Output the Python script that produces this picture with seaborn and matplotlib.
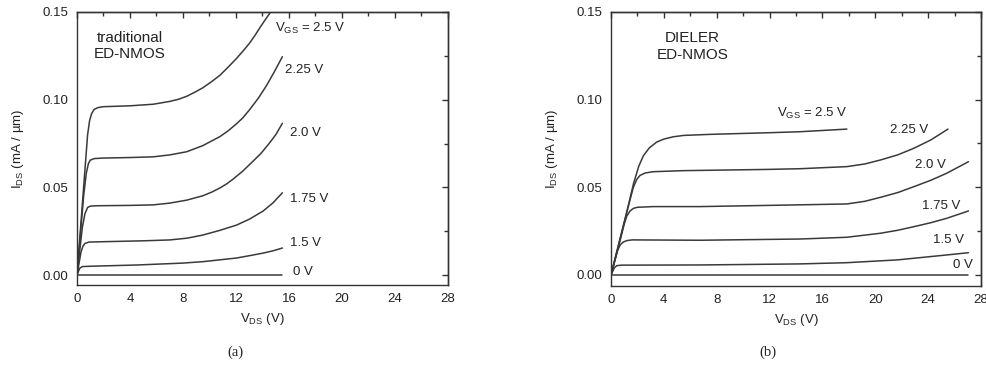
import numpy as np
import pandas as pd
import matplotlib
matplotlib.use("Agg")
import matplotlib.pyplot as plt
import seaborn as sns
from matplotlib.ticker import MultipleLocator, FormatStrFormatter

sns.set_theme(style="white")
plt.rcParams['font.family'] = ['Liberation Sans', 'DejaVu Sans']
plt.rcParams['mathtext.fontset'] = 'custom'
plt.rcParams['mathtext.rm'] = 'Liberation Sans'

# ---------------- data: (a) traditional ED-NMOS ----------------
a_vgs_labels = ["V$_\\mathregular{GS}$ = 2.5 V", "2.25 V", "2.0 V", "1.75 V", "1.5 V", "0 V"]
a_x_25 = [0, 0.5, 0.8, 0.95, 1.1, 1.3, 1.6, 2.0, 4.0, 5.76, 7.0, 7.7, 8.3, 8.9, 9.5, 10.2,
          10.8, 11.4, 12.05, 12.5, 13.0, 13.4, 13.8, 14.2, 14.8]
a_y_25 = [0, 0.05, 0.08, 0.088, 0.092, 0.0945, 0.0955, 0.096, 0.0965, 0.0974, 0.099, 0.1003,
          0.102, 0.1043, 0.1068, 0.1105, 0.114, 0.1185, 0.1236, 0.1275, 0.132, 0.1363, 0.141,
          0.1455, 0.152]
a_x_225 = [0, 0.5, 0.7, 0.86, 1.0, 1.3, 2.0, 4.0, 5.76, 7.0, 8.28, 9.5, 10.8, 11.4, 12.0,
           12.5, 13.05, 13.7, 14.3, 14.9, 15.5]
a_y_225 = [0, 0.045, 0.058, 0.0635, 0.0655, 0.0664, 0.0667, 0.067, 0.0674, 0.0685, 0.0703,
           0.0738, 0.079, 0.0822, 0.086, 0.0895, 0.0945, 0.101, 0.108, 0.116, 0.1245]
a_x_20 = [0, 0.4, 0.6, 0.8, 1.0, 1.5, 4.0, 5.76, 7.0, 8.28, 9.5, 10.2, 10.8, 11.3, 11.8,
          12.5, 13.3, 13.9, 14.5, 15.0, 15.5]
a_y_20 = [0, 0.027, 0.035, 0.0385, 0.0393, 0.0395, 0.0397, 0.040, 0.041, 0.0427, 0.0452,
          0.0474, 0.0497, 0.052, 0.0548, 0.0592, 0.065, 0.0695, 0.075, 0.080, 0.0865]
a_x_175 = [0, 0.3, 0.45, 0.6, 0.9, 2.0, 5.0, 7.0, 8.3, 9.5, 10.8, 12.05, 13.0, 14.05, 14.8, 15.5]
a_y_175 = [0, 0.013, 0.0165, 0.018, 0.0188, 0.019, 0.0195, 0.020, 0.021, 0.0228, 0.0255,
           0.0285, 0.0318, 0.0365, 0.0412, 0.0469]
a_x_15 = [0, 0.2, 0.4, 1.0, 4.5, 8.0, 9.5, 12.05, 13.0, 14.05, 14.8, 15.5]
a_y_15 = [0, 0.0038, 0.0048, 0.005, 0.0057, 0.0068, 0.0076, 0.0097, 0.011, 0.0125, 0.0138, 0.0154]
a_x_0 = [0, 15.5]
a_y_0 = [0, 0]

# ---------------- data: (b) DIELER ED-NMOS ----------------
b_vgs_labels = ["V$_\\mathregular{GS}$ = 2.5 V", "2.25 V", "2.0 V", "1.75 V", "1.5 V", "0 V"]
b_x_25 = [0, 0.7, 1.2, 1.7, 2.1, 2.45, 2.9, 3.46, 4.0, 4.7, 5.5, 7.5, 11.8, 14.3, 17.85]
b_y_25 = [0, 0.021, 0.036, 0.052, 0.062, 0.068, 0.0725, 0.0758, 0.0775, 0.0788, 0.0796,
          0.0802, 0.0811, 0.0817, 0.0832]
b_x_225 = [0, 0.7, 1.2, 1.69, 1.95, 2.2, 2.6, 3.2, 5.47, 11.8, 14.3, 17.85, 19.2, 20.4,
           21.7, 22.9, 24.2, 25.5]
b_y_225 = [0, 0.021, 0.036, 0.050, 0.0545, 0.0568, 0.0582, 0.0589, 0.0595, 0.0602, 0.0606,
           0.0618, 0.0633, 0.0656, 0.0685, 0.0722, 0.077, 0.0832]
b_x_20 = [0, 0.7, 1.0, 1.19, 1.44, 1.7, 2.0, 3.2, 6.74, 14.3, 17.85, 19.2, 20.4, 21.7, 22.9,
          24.2, 25.4, 27.05]
b_y_20 = [0, 0.020, 0.029, 0.0335, 0.0365, 0.038, 0.0386, 0.039, 0.039, 0.040, 0.0405, 0.042,
          0.0443, 0.047, 0.0503, 0.054, 0.058, 0.0646]
b_x_175 = [0, 0.5, 0.7, 0.93, 1.2, 1.6, 6.74, 14.3, 17.85, 20.4, 21.7, 22.9, 24.2, 25.4, 27.05]
b_y_175 = [0, 0.014, 0.0172, 0.0188, 0.0196, 0.020, 0.0198, 0.0205, 0.0215, 0.0238, 0.0255,
           0.0275, 0.0298, 0.0323, 0.0365]
b_x_15 = [0, 0.25, 0.43, 0.8, 6.74, 14.3, 17.85, 21.7, 25.4, 27.05]
b_y_15 = [0, 0.004, 0.0053, 0.0056, 0.0057, 0.0063, 0.007, 0.0086, 0.0114, 0.0127]
b_x_0 = [0, 27.05]
b_y_0 = [0, 0]

# label anchor positions (data coords)
a_lab_x = [14.94, 15.7, 16.1, 16.1, 16.1, 16.3]
a_lab_y = [0.1407, 0.1168, 0.0809, 0.0433, 0.0182, 0.0017]
b_lab_x = [12.57, 21.1, 23.0, 23.5, 24.4, 25.9]
b_lab_y = [0.0924, 0.0827, 0.0627, 0.0393, 0.020, 0.0057]

def make_df(xs, ys, names):
    rows = []
    for x, y, n in zip(xs, ys, names):
        rows.append(pd.DataFrame({"vds": x, "ids": y, "vgs": n}))
    return pd.concat(rows, ignore_index=True)

names = ["2.5", "2.25", "2.0", "1.75", "1.5", "0"]
df_a = make_df([a_x_25, a_x_225, a_x_20, a_x_175, a_x_15, a_x_0],
               [a_y_25, a_y_225, a_y_20, a_y_175, a_y_15, a_y_0], names)
df_b = make_df([b_x_25, b_x_225, b_x_20, b_x_175, b_x_15, b_x_0],
               [b_y_25, b_y_225, b_y_20, b_y_175, b_y_15, b_y_0], names)

fig = plt.figure(figsize=(9.87, 3.65), dpi=100)
ax_a = fig.add_axes([77/987, 1-285/365, 371/987, 273/365])
ax_b = fig.add_axes([611/987, 1-286/365, 370/987, 274/365])

line_col = "#3a3a3a"
txt_col = "#222222"

def style(ax, ymin):
    ax.set_xlim(0, 28)
    ax.set_ylim(ymin, 0.15)
    ax.xaxis.set_major_locator(MultipleLocator(4))
    ax.xaxis.set_minor_locator(MultipleLocator(2))
    ax.yaxis.set_major_locator(MultipleLocator(0.05))
    ax.yaxis.set_minor_locator(MultipleLocator(0.025))
    ax.yaxis.set_major_formatter(FormatStrFormatter("%.2f"))
    for s in ax.spines.values():
        s.set_visible(True)
        s.set_color("#333333")
        s.set_linewidth(1.0)
    ax.tick_params(axis="both", which="both", direction="out", colors="#333333",
                   labelcolor=txt_col, labelsize=9.5, width=1.0, pad=2)
    ax.tick_params(which="major", length=4)
    ax.tick_params(which="minor", length=3)
    sec_x = ax.secondary_xaxis("top")
    sec_x.xaxis.set_major_locator(MultipleLocator(4))
    sec_x.xaxis.set_minor_locator(MultipleLocator(2))
    sec_x.tick_params(which="both", direction="in", labeltop=False, colors="#333333", width=1.0)
    sec_x.tick_params(which="major", length=4)
    sec_x.tick_params(which="minor", length=3)
    sec_y = ax.secondary_yaxis("right")
    sec_y.yaxis.set_major_locator(MultipleLocator(0.05))
    sec_y.yaxis.set_minor_locator(MultipleLocator(0.025))
    sec_y.tick_params(which="both", direction="in", labelright=False, colors="#333333", width=1.0)
    sec_y.tick_params(which="major", length=4)
    sec_y.tick_params(which="minor", length=3)
    for s in list(sec_x.spines.values()) + list(sec_y.spines.values()):
        s.set_color("#333333")
        s.set_linewidth(1.0)
    ax.set_xlabel("V$_\\mathregular{DS}$ (V)", fontsize=9.5, color=txt_col, labelpad=4)
    ax.set_ylabel("I$_\\mathregular{DS}$ (mA / µm)", fontsize=9.5, color=txt_col, labelpad=12)

for ax, df, labs, lx, ly, ymin in [(ax_a, df_a, a_vgs_labels, a_lab_x, a_lab_y, -0.0057),
                                    (ax_b, df_b, b_vgs_labels, b_lab_x, b_lab_y, -0.0063)]:
    sns.lineplot(data=df, x="vds", y="ids", units="vgs", estimator=None, sort=False,
                 color=line_col, linewidth=1.1, ax=ax, legend=False)
    style(ax, ymin)
    for t, x, y in zip(labs, lx, ly):
        ax.text(x, y, t, fontsize=9.5, color=txt_col, ha="left", va="center")

ax_a.text(0.143, 0.875, "traditional\nED-NMOS", transform=ax_a.transAxes, fontsize=11,
          color=txt_col, ha="center", va="center", linespacing=1.25)
ax_b.text(0.22, 0.875, "DIELER\nED-NMOS", transform=ax_b.transAxes, fontsize=11,
          color=txt_col, ha="center", va="center", linespacing=1.25)

fig.text(235/987, 1-352/365, "(a)", fontsize=10.5, family="Liberation Serif",
         color=txt_col, ha="center", va="center")
fig.text(768/987, 1-352/365, "(b)", fontsize=10.5, family="Liberation Serif",
         color=txt_col, ha="center", va="center")

fig.savefig("out.png", dpi=100, facecolor="white")
